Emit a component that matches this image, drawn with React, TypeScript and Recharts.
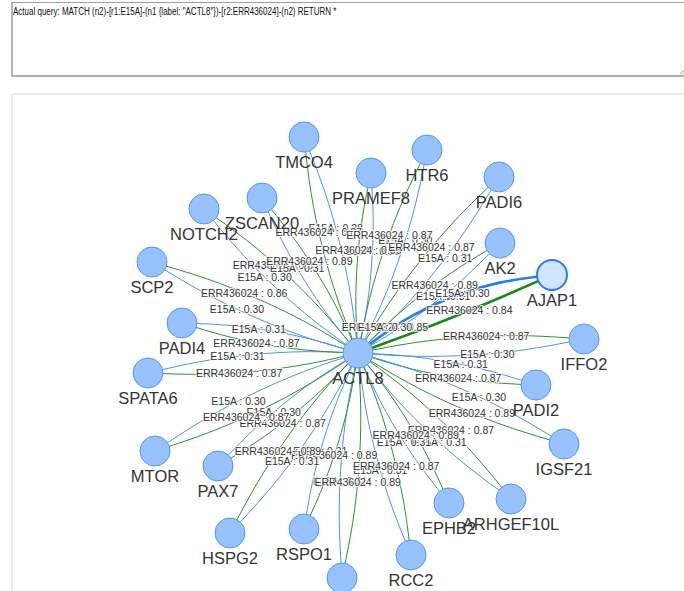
import React from "react";
import { ComposedChart, XAxis, YAxis, Line, Scatter } from "recharts";

// ---------- data ----------
const queryText =
  'Actual query: MATCH (n2)-[r1:E15A]-(n1 {label: "ACTL8"})-[r2:ERR436024]-(n2) RETURN *';

const hubName = "ACTL8";
const hubX = 358;
const hubY = 353;

const nodeNames = [
  "TMCO4", "PRAMEF8", "HTR6", "PADI6", "AK2", "AJAP1", "IFFO2", "PADI2",
  "IGSF21", "ARHGEF10L", "EPHB2", "RCC2", "", "RSPO1", "HSPG2", "PAX7",
  "MTOR", "SPATA6", "PADI4", "SCP2", "NOTCH2", "ZSCAN20",
];
const nodeX = [304, 371, 427, 499, 500, 552, 584, 536, 564, 511, 449, 411, 342, 304, 230, 218, 155, 148, 182, 152, 204, 262];
const nodeY = [137, 173, 150, 177, 243, 275, 339, 385, 444, 499, 503, 555, 578, 529, 533, 466, 451, 373, 323, 262, 209, 198];

const relE15A = "E15A";
const relERR = "ERR436024";
const e15aScores = [0.28, 0.30, 0.30, 0.31, 0.31, 0.30, 0.30, 0.31, 0.30, 0.31, 0.31, 0.31, 0.31, 0.31, 0.31, 0.30, 0.30, 0.31, 0.31, 0.30, 0.30, 0.31];
const errScores = [0.87, 0.85, 0.87, 0.87, 0.89, 0.84, 0.87, 0.87, 0.89, 0.87, 0.89, 0.87, 0.89, 0.89, 0.89, 0.87, 0.87, 0.87, 0.87, 0.86, 0.80, 0.89];
const selfLoopE15A = 0.30;
const selfLoopERR = 0.85;
const selectedNode = "AJAP1";

// ---------- layout / style ----------
const W = 684;
const H = 591;
const NODE_R = 15;
const BLUE = "#4f92e8";
const GREEN = "#2f922f";
// which side the ERR436024 arc bends to, per node (+1 / -1)
const greenSide = [-1, -1, -1, -1, -1, 1, -1, 1, 1, -1, -1, -1, -1, -1, 1, -1, -1, -1, -1, 1, 1, 1];
const BEND = 0.08;
const LABEL_T = 0.43;

type Pt = { x: number; y: number };
type EdgeDef = { key: string; pts: Pt[]; color: string; width: number };
type LabelDef = { x: number; y: number; text: string };

function bez(p0: Pt, c: Pt, p2: Pt, t: number): Pt {
  const a = (1 - t) * (1 - t);
  const b = 2 * t * (1 - t);
  const d = t * t;
  return { x: a * p0.x + b * c.x + d * p2.x, y: a * p0.y + b * c.y + d * p2.y };
}

const edges: EdgeDef[] = [];
const edgeLabels: LabelDef[] = [];

nodeNames.forEach((name, i) => {
  const p0 = { x: nodeX[i], y: nodeY[i] };
  const p2 = { x: hubX, y: hubY };
  const dx = p0.x - p2.x;
  const dy = p0.y - p2.y;
  const L = Math.hypot(dx, dy);
  const px = -dy / L;
  const py = dx / L;
  const mid = { x: (p0.x + p2.x) / 2, y: (p0.y + p2.y) / 2 };
  const sel = name === selectedNode;
  const rels = [
    { rel: relE15A, score: e15aScores[i], side: -greenSide[i], color: sel ? "#2b7ce9" : BLUE, k: sel ? 0.16 : BEND },
    { rel: relERR, score: errScores[i], side: greenSide[i], color: sel ? "#1b8a1b" : GREEN, k: sel ? 0.02 : BEND },
  ];
  rels.forEach((r) => {
    const c = { x: mid.x + r.side * r.k * L * px, y: mid.y + r.side * r.k * L * py };
    const pts = [0, 0.25, 0.5, 0.75, 1].map((t) => bez(p0, c, p2, t));
    edges.push({ key: `${name || "n" + i}-${r.rel}`, pts, color: r.color, width: sel ? 2.6 : 1 });
    const lp = bez(p0, c, p2, LABEL_T);
    edgeLabels.push({ x: lp.x, y: lp.y, text: `${r.rel} : ${r.score.toFixed(2)}` });
  });
});

// self-loop labels on the hub
edgeLabels.push({ x: hubX + 27, y: hubY - 26, text: `${relERR} : ${selfLoopERR.toFixed(2)}` });
edgeLabels.push({ x: hubX + 27, y: hubY - 26, text: `${relE15A} : ${selfLoopE15A.toFixed(2)}` });

const nodes = [
  ...nodeNames.map((name, i) => ({ x: nodeX[i], y: nodeY[i], name, selected: name === selectedNode })),
  { x: hubX, y: hubY, name: hubName, selected: false },
];

const LabelShape = (props: any) => {
  const { cx, cy, payload } = props;
  return (
    <text
      x={cx}
      y={cy}
      textAnchor="middle"
      dominantBaseline="central"
      fontFamily="'Liberation Sans', Arial, sans-serif"
      fontSize={10.5}
      fill="#343434"
      stroke="#ffffff"
      strokeWidth={2}
      strokeOpacity={0.85}
      paintOrder="stroke"
    >
      {payload.text}
    </text>
  );
};

const NodeShape = (props: any) => {
  const { cx, cy, payload } = props;
  return (
    <g>
      <circle
        cx={cx}
        cy={cy}
        r={NODE_R}
        fill={payload.selected ? "#d2e5ff" : "#97c2fc"}
        stroke={payload.selected ? "#2b7ce9" : "#5596ee"}
        strokeWidth={payload.selected ? 2 : 1}
      />
      {payload.name ? (
        <text
          x={cx}
          y={cy + 25}
          textAnchor="middle"
          dominantBaseline="central"
          fontFamily="'Liberation Sans', Arial, sans-serif"
          fontSize={16.5}
          fill="#343434"
        >
          {payload.name}
        </text>
      ) : null}
    </g>
  );
};

export default function App() {
  return (
    <div
      style={{
        position: "absolute",
        left: 0,
        top: 0,
        width: W,
        height: H,
        overflow: "hidden",
        background: "#ffffff",
      }}
    >
      <div
        style={{
          position: "absolute",
          left: 11,
          top: 2,
          width: 690,
          height: 72,
          borderTop: "1px solid #a0a0a0",
          borderLeft: "2px solid #b4b4b4",
          borderBottom: "2px solid #b0b0b0",
          borderRight: "1px solid #a0a0a0",
          boxSizing: "content-box",
        }}
      >
        <div
          style={{
            position: "absolute",
            left: 0,
            top: 3,
            fontFamily: "'Liberation Sans', Arial, sans-serif",
            fontSize: 10,
            lineHeight: "11px",
            color: "#111",
            whiteSpace: "nowrap",
            transform: "scaleX(0.8)",
            transformOrigin: "0 0",
          }}
        >
          {queryText}
        </div>
        <svg
          width={8}
          height={8}
          style={{ position: "absolute", left: 666, top: 64 }}
        >
          <line x1={1} y1={7} x2={7} y2={1} stroke="#999" strokeWidth={1} />
          <line x1={4} y1={7} x2={7} y2={4} stroke="#999" strokeWidth={1} />
        </svg>
      </div>
      <div
        style={{
          position: "absolute",
          left: 11,
          top: 93,
          width: 700,
          height: 600,
          border: "2px solid #ececec",
          borderRadius: 3,
        }}
      />
      <div style={{ position: "absolute", left: 0, top: 0 }}>
        <ComposedChart width={W} height={H} margin={{ top: 0, right: 0, bottom: 0, left: 0 }}>
          <XAxis type="number" dataKey="x" domain={[0, W]} allowDataOverflow hide />
          <YAxis type="number" dataKey="y" domain={[0, H]} allowDataOverflow reversed hide />
          {edges.map((e) => (
            <Line
              key={e.key}
              data={e.pts}
              dataKey="y"
              type="natural"
              stroke={e.color}
              strokeWidth={e.width}
              dot={false}
              activeDot={false}
              isAnimationActive={false}
              legendType="none"
            />
          ))}
          <Scatter data={edgeLabels} dataKey="y" shape={LabelShape} isAnimationActive={false} legendType="none" />
          <Scatter data={nodes} dataKey="y" shape={NodeShape} isAnimationActive={false} legendType="none" />
        </ComposedChart>
      </div>
    </div>
  );
}
